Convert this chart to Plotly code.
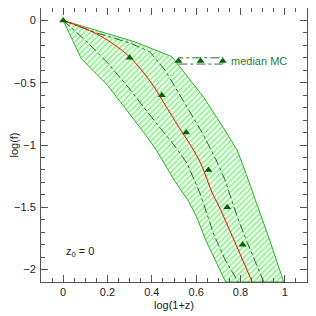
import plotly.graph_objects as go

# Band (MC spread) boundaries: upper/right edge then lower/left edge
band_upper_x = [0.0, 0.32, 0.49, 0.635, 0.715, 0.785, 0.825, 0.87, 0.935, 0.995]
band_upper_y = [0.0, -0.17, -0.29, -0.62, -0.84, -1.04, -1.23, -1.45, -1.78, -2.1]
band_lower_x = [0.0, 0.082, 0.2, 0.36, 0.42, 0.5, 0.565, 0.6, 0.645, 0.733]
band_lower_y = [0.0, -0.307, -0.52, -0.89, -1.04, -1.28, -1.45, -1.57, -1.77, -2.1]

# Red model curve
red_x = [0.0, 0.142, 0.224, 0.3, 0.389, 0.479, 0.516, 0.613, 0.673, 0.703, 0.763, 0.853]
red_y = [0.0, -0.1, -0.187, -0.293, -0.48, -0.733, -0.84, -1.12, -1.387, -1.493, -1.733, -2.1]

# Dash-dot quartile lines
left_dash_x = [0.0, 0.1, 0.2, 0.3, 0.4, 0.5, 0.56, 0.62, 0.68, 0.73, 0.79]
left_dash_y = [0.0, -0.16, -0.34, -0.55, -0.78, -1.0, -1.15, -1.4, -1.72, -1.92, -2.1]
right_dash_x = [0.0, 0.15, 0.3, 0.39, 0.46, 0.52, 0.63, 0.69, 0.73, 0.79, 0.83, 0.905]
right_dash_y = [0.0, -0.1, -0.18, -0.25, -0.4, -0.58, -0.91, -1.12, -1.28, -1.6, -1.78, -2.1]

# Median MC triangles
tri_x = [0.0, 0.3, 0.445, 0.555, 0.655, 0.74, 0.81]
tri_y = [0.0, -0.3, -0.6, -0.9, -1.2, -1.5, -1.8]

# Legend sample
leg_x = [0.52, 0.62, 0.72]
leg_y = [-0.325, -0.325, -0.325]
leg_box = [0.52, 0.72, -0.35, -0.30]
leg_label = "median MC"

x_ticks = [0, 0.2, 0.4, 0.6, 0.8, 1]
y_ticks = [0, -0.5, -1, -1.5, -2]

DG = "#006400"
fig = go.Figure()

poly_x = band_upper_x + band_lower_x[::-1]
poly_y = band_upper_y + band_lower_y[::-1]
fig.add_trace(go.Scatter(
    x=poly_x, y=poly_y, mode="lines", fill="toself",
    fillcolor="rgba(0,0,0,0)",
    fillpattern=dict(shape="/", fgcolor="#2ee82e", bgcolor="rgba(255,255,255,0)", size=4, solidity=0.5),
    line=dict(color="#33aa33", width=1), hoverinfo="skip", showlegend=False))

for xs, ys in [(left_dash_x, left_dash_y), (right_dash_x, right_dash_y)]:
    fig.add_trace(go.Scatter(x=xs, y=ys, mode="lines",
                             line=dict(color="#2a6a2a", width=1, dash="dashdot"),
                             showlegend=False))

fig.add_trace(go.Scatter(x=red_x, y=red_y, mode="lines",
                         line=dict(color="#ff0000", width=1, shape="spline"),
                         showlegend=False))

fig.add_trace(go.Scatter(x=tri_x, y=tri_y, mode="markers",
                         marker=dict(symbol="triangle-up", color=DG, size=7),
                         showlegend=False))

# legend
fig.add_shape(type="rect", x0=leg_box[0], x1=leg_box[1], y0=leg_box[2], y1=leg_box[3],
              line=dict(color="#2a6a2a", width=1, dash="dashdot"))
fig.add_trace(go.Scatter(x=leg_x, y=leg_y, mode="markers",
                         marker=dict(symbol="triangle-up", color=DG, size=7),
                         showlegend=False))
fig.add_annotation(x=0.75, y=-0.325, text=leg_label, showarrow=False, xanchor="left",
                   font=dict(color="#2e7d2e", size=11))

fig.add_annotation(x=0.005, y=-1.86, text="z<sub>0</sub> = 0", showarrow=False, xanchor="left",
                   font=dict(color="#222222", size=11))

axis_common = dict(showgrid=False, zeroline=False, showline=True, linecolor="#555555",
                   linewidth=1, mirror="allticks", ticks="inside", ticklen=7,
                   tickcolor="#555555", tickfont=dict(size=11, color="#222222"),
                   automargin=False)

fig.update_xaxes(range=[-0.1, 1.1], tickvals=x_ticks, ticktext=[str(v) for v in x_ticks],
                 title=dict(text="log(1+z)", font=dict(size=11, color="#222222"), standoff=4),
                 minor=dict(dtick=0.05, ticklen=4, ticks="inside", tickcolor="#555555"),
                 **axis_common)
fig.update_yaxes(range=[-2.1, 0.1], tickvals=y_ticks,
                 ticktext=["0", "\u22120.5", "\u22121", "\u22121.5", "\u22122"],
                 ticklabelstandoff=2,
                 title=dict(text="log(f)", font=dict(size=11, color="#222222"), standoff=10),
                 minor=dict(dtick=0.1, ticklen=4, ticks="inside", tickcolor="#555555"),
                 **axis_common)

# page body adds ~8px offset; size figure so the plot frame lands where the reference has it
fig.update_layout(width=308, height=308, margin=dict(l=33, r=9, t=0, b=34),
                  plot_bgcolor="white", paper_bgcolor="white",
                  font=dict(family="Liberation Sans, Arial, sans-serif"))

fig.write_html("out.html")
